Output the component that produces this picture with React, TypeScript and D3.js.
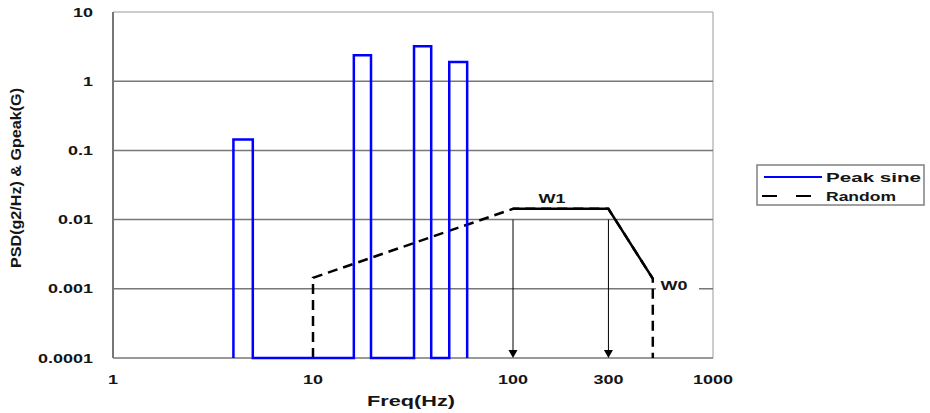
import React, { useRef, useEffect } from 'react';
import * as d3 from 'd3';

// Peak sine: rectangular blocks along the bottom axis
const sineFreq = [4, 4, 5, 5, 16, 16, 19.5, 19.5, 32, 32, 39, 39, 48, 48, 59, 59];
const sineG = [0.0001, 0.144, 0.144, 0.0001, 0.0001, 2.38, 2.38, 0.0001, 0.0001, 3.2, 3.2, 0.0001, 0.0001, 1.9, 1.9, 0.0001];

// Random PSD profile
const randomFreq = [10, 10, 100, 300, 500, 500];
const randomPsd = [0.0001, 0.00144, 0.0143, 0.0143, 0.0014, 0.0001];

const yTicks = [0.0001, 0.001, 0.01, 0.1, 1, 10];
const yTickLabels = ['0.0001', '0.001', '0.01', '0.1', '1', '10'];
const xTicks = [1, 10, 100, 300, 1000];
const xTickLabels = ['1', '10', '100', '300', '1000'];

const arrowFreq = [100, 300];
const arrowTop = 0.01;

const seriesNames = ['Peak sine', 'Random'];

const App = () => {
    const ref = useRef<SVGSVGElement | null>(null);

    useEffect(() => {
        const width = 930;
        const height = 413;
        const left = 113, right = 713, top = 12, bottom = 358;
        const sx = 1.5; // glyphs in the source are stretched horizontally
        const font = "'Liberation Sans', Arial, sans-serif";

        const x = d3.scaleLog().domain([1, 1000]).range([left, right]);
        const y = d3.scaleLog().domain([0.0001, 10]).range([bottom, top]);

        const svg = d3.select(ref.current);
        svg.selectAll('*').remove();
        svg.attr('width', width).attr('height', height).attr('viewBox', `0 0 ${width} ${height}`);

        svg.append('rect').attr('width', width).attr('height', height).attr('fill', 'white');

        const label = (g: any, tx: number, ty: number, txt: string, anchor: string, size = 12, len?: number) => {
            const t = g.append('text')
                .attr('transform', `translate(${tx},${ty}) scale(${sx},1)`)
                .attr('text-anchor', anchor)
                .attr('font-family', font)
                .attr('font-weight', 'bold')
                .attr('font-size', size)
                .attr('fill', '#151515')
                .text(txt);
            if (len) t.attr('textLength', len / sx).attr('lengthAdjust', 'spacingAndGlyphs');
            return t;
        };

        // frame
        svg.append('line').attr('x1', left).attr('x2', right).attr('y1', top).attr('y2', top)
            .attr('stroke', '#9a9a9a').attr('stroke-width', 1);
        svg.append('line').attr('x1', right).attr('x2', right).attr('y1', top).attr('y2', bottom)
            .attr('stroke', '#9a9a9a').attr('stroke-width', 1);

        // gridlines
        svg.append('g').selectAll('line')
            .data(yTicks.slice(1, -1))
            .join('line')
            .attr('x1', left).attr('x2', right)
            .attr('y1', d => y(d)).attr('y2', d => y(d))
            .attr('stroke', '#777').attr('stroke-width', 1.5);

        // axes
        svg.append('line').attr('x1', left).attr('x2', right).attr('y1', bottom).attr('y2', bottom)
            .attr('stroke', '#777').attr('stroke-width', 1.5);
        svg.append('line').attr('x1', left).attr('x2', left).attr('y1', top).attr('y2', bottom)
            .attr('stroke', '#777').attr('stroke-width', 2);

        // tick labels
        const yl = svg.append('g');
        yTicks.forEach((t, i) => label(yl, 93, y(t) + 4.5, yTickLabels[i], 'end'));
        const xl = svg.append('g');
        xTicks.forEach((t, i) => label(xl, x(t), 383.5, xTickLabels[i], 'middle'));

        // axis titles
        label(svg, 411, 406, 'Freq(Hz)', 'middle', 14, 88);
        svg.append('text')
            .attr('transform', `translate(21,178) scale(1.35,1) rotate(-90)`)
            .attr('text-anchor', 'middle')
            .attr('font-family', font)
            .attr('font-weight', 'bold')
            .attr('font-size', 11)
            .attr('textLength', 180)
            .attr('lengthAdjust', 'spacingAndGlyphs')
            .attr('fill', '#151515')
            .text('PSD(g2/Hz) & Gpeak(G)');

        // arrows
        const arrows = svg.append('g');
        arrowFreq.forEach(f => {
            arrows.append('line')
                .attr('x1', x(f)).attr('x2', x(f))
                .attr('y1', y(arrowTop)).attr('y2', bottom - 6)
                .attr('stroke', '#000').attr('stroke-width', 1);
            arrows.append('path')
                .attr('d', `M${x(f) - 4.5},${bottom - 8}L${x(f) + 4.5},${bottom - 8}L${x(f)},${bottom}Z`)
                .attr('fill', '#000');
        });

        const pts = (fx: number[], fy: number[]) => fx.map((f, i) => [x(f), y(fy[i])] as [number, number]);
        const line = d3.line();

        // random series
        svg.append('path')
            .attr('d', line(pts(randomFreq, randomPsd)))
            .attr('fill', 'none').attr('stroke', '#000').attr('stroke-width', 2.5)
            .attr('stroke-dasharray', '10,6');
        svg.append('path')
            .attr('d', line(pts(randomFreq.slice(2, 5), randomPsd.slice(2, 5))))
            .attr('fill', 'none').attr('stroke', '#000').attr('stroke-width', 2.5)
            .attr('stroke-linejoin', 'round');

        // peak sine series
        svg.append('path')
            .attr('d', line(pts(sineFreq, sineG)))
            .attr('fill', 'none').attr('stroke', '#0000ff').attr('stroke-width', 2.5);

        // W1 / W0 annotations
        label(svg, 552, 203, 'W1', 'middle');
        svg.append('rect').attr('x', 656).attr('y', 280).attr('width', 43).attr('height', 14).attr('fill', 'white');
        label(svg, 674, 290, 'W0', 'middle');

        // legend
        const lg = svg.append('g');
        lg.append('rect').attr('x', 757).attr('y', 165).attr('width', 167).attr('height', 40)
            .attr('fill', 'white').attr('stroke', '#808080').attr('stroke-width', 1.5);
        lg.append('line').attr('x1', 764).attr('x2', 822).attr('y1', 177).attr('y2', 177)
            .attr('stroke', '#0000ff').attr('stroke-width', 2);
        lg.append('line').attr('x1', 762).attr('x2', 822).attr('y1', 196).attr('y2', 196)
            .attr('stroke', '#000').attr('stroke-width', 2).attr('stroke-dasharray', '15,19');
        label(lg, 826, 182, seriesNames[0], 'start', 12, 95);
        label(lg, 826, 201, seriesNames[1], 'start', 12, 70);
    }, []);

    return <svg ref={ref} style={{ position: 'absolute', left: 0, top: 0, display: 'block' }} />;
};

export default App;
